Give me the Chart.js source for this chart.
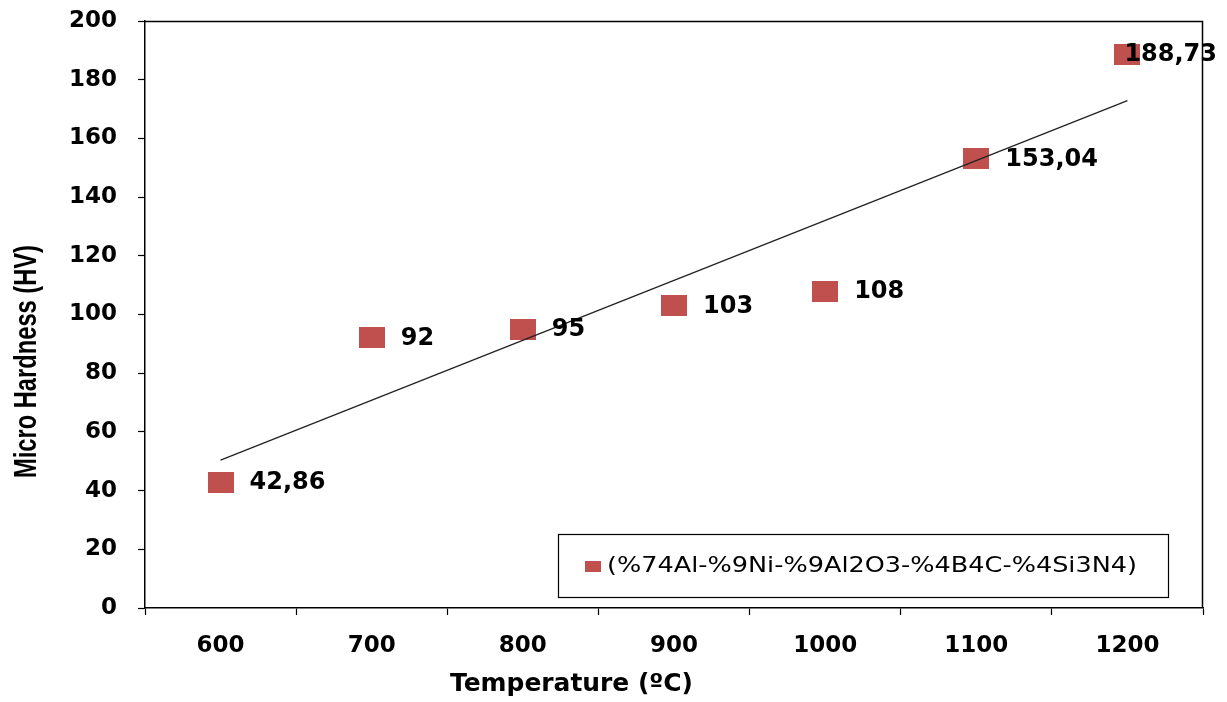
<!DOCTYPE html>
<html><head><meta charset="utf-8">
<script src="https://cdn.jsdelivr.net/npm/chart.js@4.4.1/dist/chart.umd.min.js"></script>
<style>html,body{margin:0;padding:0;background:#fff;overflow:hidden}#wrap{width:1227px;height:702px}</style>
</head><body><div id="wrap"><canvas id="c" width="1227" height="702"></canvas></div>
<script>
// ---- data ----
const temperatures = ['600', '700', '800', '900', '1000', '1100', '1200'];
const hardness = [42.86, 92, 95, 103, 108, 153.04, 188.73];
const trendline = [50.4, null, null, null, null, null, 172.9];
const yMin = 0, yMax = 200, yStep = 20;
const seriesName = '(%74Al-%9Ni-%9Al2O3-%4B4C-%4Si3N4)';
const xTitle = 'Temperature (ºC)';
const yTitle = 'Micro Hardness (HV)';

const RED = '#C0504D';
const BOLD = '"DejaVu Sans", "Liberation Sans", Arial, sans-serif';

// marker image (rectangular marker as in reference)
const marker = document.createElement('canvas');
marker.width = 26; marker.height = 21;
(function(){ const m = marker.getContext('2d'); m.fillStyle = RED; m.fillRect(0,0,26,21); })();

function fitText(ctx, text, targetW) {
  const w = ctx.measureText(text).width;
  return targetW / w;
}

const overlay = {
  id: 'overlay',
  afterDatasetsDraw(chart) {
    const ctx = chart.ctx;
    const meta = chart.getDatasetMeta(1);
    ctx.save();
    ctx.font = 'bold 24px ' + BOLD;
    ctx.fillStyle = '#000';
    ctx.textAlign = 'left';
    ctx.textBaseline = 'middle';
    meta.data.forEach((pt, i) => {
      const txt = String(hardness[i]).replace('.', ',');
      const w = ctx.measureText(txt).width;
      let x = pt.x + 29;
      if (x + w > chart.width - 10) x = chart.width - 10 - w;
      ctx.fillText(txt, x, pt.y + 1);
    });
    ctx.restore();
  },
  afterDraw(chart) {
    const ctx = chart.ctx;
    const a = chart.chartArea;
    ctx.save();
    // plot frame (top & right)
    ctx.strokeStyle = '#000';
    ctx.lineWidth = 1.5;
    ctx.beginPath();
    ctx.moveTo(a.left, a.top + 0.5);
    ctx.lineTo(a.right - 0.5, a.top + 0.5);
    ctx.lineTo(a.right - 0.5, a.bottom);
    ctx.stroke();

    // legend box
    const bx = a.right - 645, by = a.bottom - 74, bw = 610, bh = 63;
    ctx.fillStyle = '#fff';
    ctx.fillRect(bx, by, bw, bh);
    ctx.lineWidth = 1.2;
    ctx.strokeStyle = '#000';
    ctx.strokeRect(bx + 0.5, by + 0.5, bw, bh);
    const ds = chart.data.datasets[1];
    ctx.fillStyle = RED;
    ctx.fillRect(bx + 27, by + 27, 16, 11);
    ctx.fillStyle = '#000';
    ctx.font = '21px "DejaVu Sans", "Liberation Sans", Arial, sans-serif';
    ctx.textBaseline = 'middle';
    ctx.textAlign = 'left';
    const s = fitText(ctx, ds.label, 530);
    ctx.save();
    ctx.translate(bx + 49, by + 33);
    ctx.scale(s, 1);
    ctx.fillText(ds.label, 0, 0);
    ctx.restore();

    // x axis title
    ctx.font = 'bold 25px ' + BOLD;
    ctx.textBaseline = 'alphabetic';
    ctx.textAlign = 'left';
    const sx = fitText(ctx, xTitle, 243);
    ctx.save();
    ctx.translate(450, 691);
    ctx.scale(sx, 1);
    ctx.fillText(xTitle, 0, 0);
    ctx.restore();

    // y axis title (condensed, rotated)
    ctx.font = 'bold 31px "Liberation Sans", Arial, sans-serif';
    ctx.textAlign = 'center';
    const sy = fitText(ctx, yTitle, 233);
    ctx.save();
    ctx.translate(36, 361.5);
    ctx.rotate(-Math.PI / 2);
    ctx.scale(sy, 1);
    ctx.fillText(yTitle, 0, 0);
    ctx.restore();

    ctx.restore();
  }
};

new Chart(document.getElementById('c'), {
  type: 'line',
  data: {
    labels: temperatures,
    datasets: [
      {
        label: 'Linear trend',
        data: trendline,
        spanGaps: true,
        borderColor: '#222',
        borderWidth: 1.3,
        pointRadius: 0,
        pointHoverRadius: 0,
        fill: false,
        order: 0
      },
      {
        label: seriesName,
        data: hardness,
        showLine: false,
        pointStyle: marker,
        pointRadius: 13,
        backgroundColor: RED,
        borderColor: RED,
        order: 1
      }
    ]
  },
  options: {
    responsive: false,
    animation: false,
    devicePixelRatio: 1,
    layout: { padding: { top: 21, right: 24, left: 0, bottom: 0 } },
    plugins: { legend: { display: false }, tooltip: { enabled: false } },
    scales: {
      x: {
        type: 'category',
        offset: true,
        grid: { display: true, offset: true, drawOnChartArea: false, drawTicks: true, tickLength: 7, color: '#000', tickWidth: 1.2 },
        border: { display: true, color: '#000', width: 1.5 },
        ticks: { color: '#000', font: { family: BOLD, size: 23, weight: 'bold' }, padding: 17, maxRotation: 0, autoSkip: false },
        afterFit(scale) { scale.height = 94; scale.paddingLeft = 0; scale.paddingRight = 0; }
      },
      y: {
        min: yMin, max: yMax,
        grid: { display: true, drawOnChartArea: false, drawTicks: true, tickLength: 7, color: '#000', tickWidth: 1.2 },
        border: { display: true, color: '#000', width: 1.5 },
        ticks: { stepSize: yStep, color: '#000', font: { family: BOLD, size: 23, weight: 'bold' }, padding: 21 },
        afterFit(scale) { scale.width = 145; scale.paddingTop = 0; scale.paddingBottom = 0; }
      }
    }
  },
  plugins: [overlay]
});
</script>
</body></html>
